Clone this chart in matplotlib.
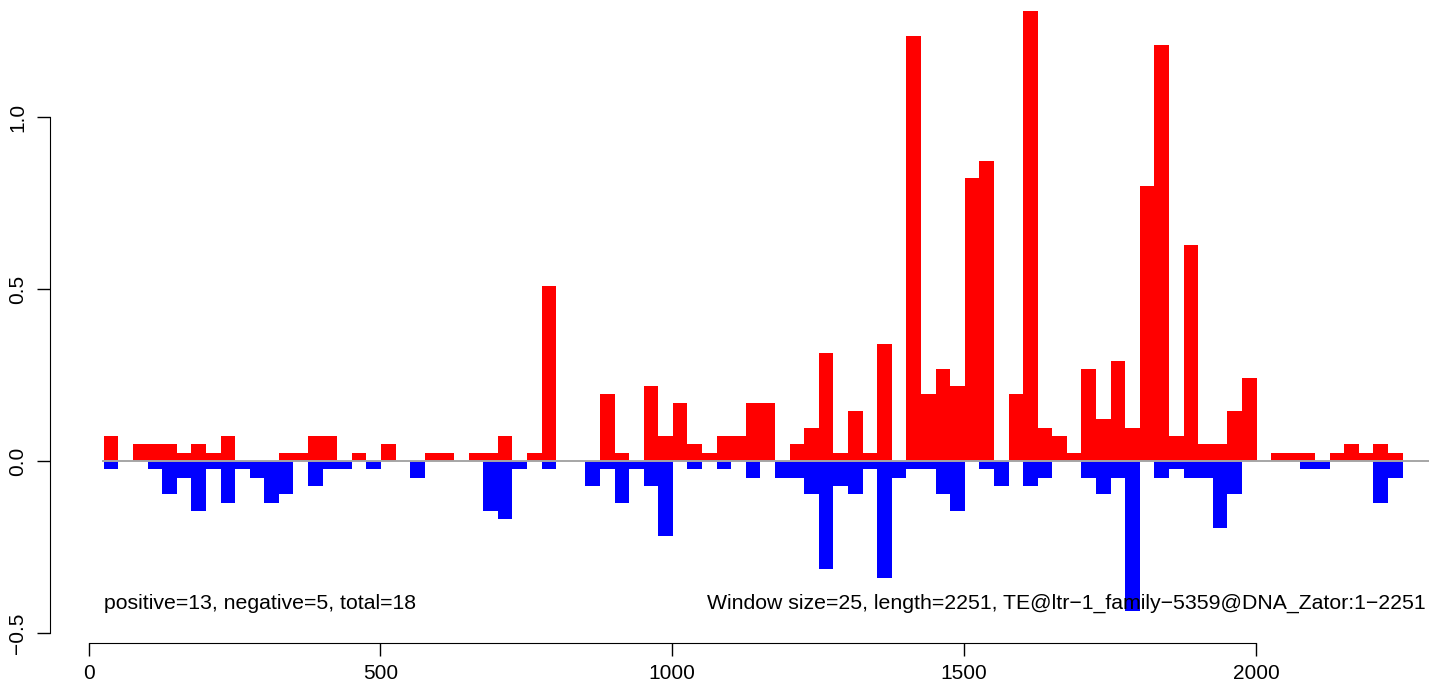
import matplotlib
matplotlib.use("Agg")
import matplotlib.pyplot as plt
import numpy as np

plt.rcParams["font.family"] = ["Liberation Sans", "DejaVu Sans"]

# window counts (in units of one hit) for each 25-bp window, starting at 26
window_size = 25
first_start = 26
unit = 0.0242
pos_counts = [3, 0, 2, 2, 2, 1, 2, 1, 3, 0, 0, 0, 1, 1, 3,
              3, 0, 1, 0, 2, 0, 0, 1, 1, 0, 1, 1, 3, 0, 1, 21,
              0, 0, 0, 8, 1, 0, 9, 3, 7, 2, 1, 3, 3, 7, 7, 0, 2,
              4, 13, 1, 6, 1, 14, 0, 51, 8, 11, 9, 34, 36, 0, 8, 54,
              4, 3, 1, 11, 5, 12, 4, 33, 50, 3, 26, 2, 2, 6, 10, 0,
              1, 1, 1, 0, 1, 2, 1, 2, 1]
neg_counts = [1, 0, 0, 1, 4, 2, 6, 1, 5, 1, 2, 5, 4, 0, 3,
              1, 1, 0, 1, 0, 0, 2, 0, 0, 0, 0, 6, 7, 1, 0, 1,
              0, 0, 3, 1, 5, 1, 3, 9, 0, 1, 0, 1, 0, 2, 0, 2, 2,
              4, 13, 3, 4, 1, 14, 2, 1, 1, 4, 6, 0, 1, 3, 0, 3,
              2, 0, 0, 2, 4, 2, 18, 0, 2, 1, 2, 2, 8, 4, 0, 0,
              0, 0, 1, 1, 0, 0, 0, 5, 2]
x_ticks = [0, 500, 1000, 1500, 2000]
y_ticks = [-0.5, 0.0, 0.5, 1.0]
left_note = "positive=13, negative=5, total=18"
right_note = "Window size=25, length=2251, TE@ltr\u22121_family\u22125359@DNA_Zator:1\u22122251"

starts = first_start + window_size * np.arange(len(pos_counts))
pos = np.array(pos_counts) * unit
neg = -np.array(neg_counts) * unit

W, H = 1429, 682
fig = plt.figure(figsize=(W / 100, H / 100), dpi=100)
ax = fig.add_axes([50 / W, 1 - 643 / H, 1 - 50 / W, (643 - 8) / H])

ax.bar(starts, pos, width=window_size, align="edge", color="#ff0000", linewidth=0)
ax.bar(starts, neg, width=window_size, align="edge", color="#0000ff", linewidth=0)
ax.plot([25, 2400], [0, 0], color="#a6a6a6", linewidth=1.4, zorder=3)

ax.set_xlim((50 - 88.6) / 0.5837, (W - 88.6) / 0.5837)
ax.set_ylim((461 - 643) / 344, (461 - 8) / 344)

for s in ["top", "right"]:
    ax.spines[s].set_visible(False)
ax.spines["left"].set_bounds(-0.5, 1.0)
ax.spines["bottom"].set_bounds(0, 2000)
ax.set_xticks(x_ticks)
ax.set_xticklabels([str(v) for v in x_ticks])
ax.set_yticks(y_ticks)
ax.set_yticklabels([f"{v:.1f}".replace("-", "\u2212") for v in y_ticks],
                   rotation=90, va="center")
ax.tick_params(direction="out", length=9.4, width=1, labelsize=15, pad=6)
ax.tick_params(axis="y", pad=7)

ax.text(26, -0.430, left_note, ha="left", va="baseline", fontsize=15.3)
ax.text(2290, -0.430, right_note, ha="right", va="baseline", fontsize=15.3)

fig.savefig("out.png", dpi=100)
